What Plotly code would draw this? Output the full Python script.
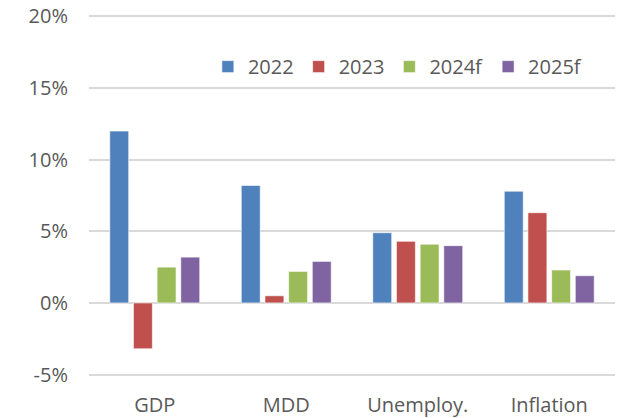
import plotly.graph_objects as go

categories = ["GDP", "MDD", "Unemploy.", "Inflation"]
years = ["2022", "2023", "2024f", "2025f"]
values_2022 = [12.0, 8.2, 4.9, 7.8]
values_2023 = [-3.2, 0.5, 4.3, 6.3]
values_2024f = [2.5, 2.2, 4.1, 2.3]
values_2025f = [3.2, 2.9, 4.0, 1.9]

series = [values_2022, values_2023, values_2024f, values_2025f]
colors = ["#4F81BD", "#C0504D", "#9BBB59", "#8064A2"]
tick_vals = [-5, 0, 5, 10, 15, 20]
tick_text = ["-5%", "0%", "5%", "10%", "15%", "20%"]

fig = go.Figure()
for name, vals, color in zip(years, series, colors):
    fig.add_trace(go.Bar(
        x=categories,
        y=vals,
        name=name,
        marker=dict(color=color, line=dict(color="rgba(255,255,255,0.6)", width=1)),
    ))

fig.update_layout(
    width=618,
    height=418,
    margin=dict(l=89, r=3, t=14.5, b=41.5),
    paper_bgcolor="white",
    plot_bgcolor="white",
    font=dict(family="Open Sans", size=20, color="#595959"),
    barmode="group",
    bargap=0.28,
    bargroupgap=0.2,
    showlegend=True,
    legend=dict(
        orientation="h",
        x=0.226,
        y=0.857,
        xanchor="left",
        yanchor="middle",
        bgcolor="rgba(0,0,0,0)",
        font=dict(size=20, color="#595959"),
        traceorder="normal",
    ),
    xaxis=dict(
        showgrid=False,
        showline=False,
        ticks="",
        automargin=False,
        ticklabelstandoff=15,
        ticklabeloverflow="allow",
        tickfont=dict(size=20),
    ),
    yaxis=dict(
        range=[-5.1, 20.1],
        tickvals=tick_vals,
        ticktext=tick_text,
        showgrid=True,
        gridcolor="#D9D9D9",
        gridwidth=1.5,
        zeroline=True,
        zerolinecolor="#D9D9D9",
        zerolinewidth=1.5,
        showline=False,
        ticks="",
        automargin=False,
        ticklabelstandoff=20,
        ticklabeloverflow="allow",
        tickfont=dict(size=20),
    ),
)

# drop the default page margin so the figure sits at the window's top-left corner
fig.write_html(
    "out.html",
    config={"displayModeBar": False},
    post_script="document.body.style.margin = '0';",
)
